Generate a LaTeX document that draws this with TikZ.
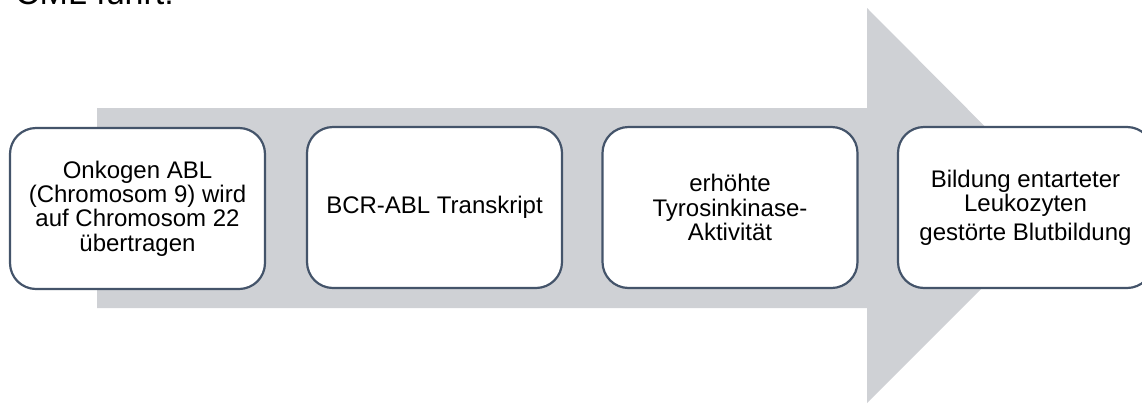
\documentclass[tikz,border=0pt]{standalone}
\usepackage{fontspec}
\setmainfont{Liberation Sans}
\definecolor{arrowgray}{RGB}{207,209,213}
\definecolor{boxline}{RGB}{68,84,106}
\tikzset{
  stepbox/.style={draw=boxline, line width=2.2pt, fill=white,
    rounded corners=26pt, minimum width=255pt, minimum height=161pt,
    align=center, inner sep=0pt, font=\fontsize{24}{24.4}\selectfont},
  headline/.style={anchor=base west, inner sep=0pt,
    font=\fontsize{34}{40}\selectfont},
}
\begin{document}
\begin{tikzpicture}[x=1pt,y=-1pt]
\useasboundingbox (0,0) rectangle (1142,405);
\clip (0,0) rectangle (1142,405);
% heading, mostly above the page edge
\node[headline] (title) at (15,4) {CML führt:};
% broad process arrow behind the steps
\fill[arrowgray] (97,108) -- (867,108) -- (867,8) -- (1064,206)
  -- (867,403) -- (867,308) -- (97,308) -- cycle;
% steps
\node[stepbox] (s1) at (137.5,208.5) {Onkogen ABL\\(Chromosom 9) wird\\auf Chromosom 22\\übertragen};
\node[stepbox] (s2) at (434.5,207.5) {BCR-ABL Transkript};
\node[stepbox] (s3) at (730,207.5) {erhöhte\\Tyrosinkinase-\\Aktivität};
\node[stepbox] (s4) at (1025.5,207.5) {Bildung entarteter\\Leukozyten\\[4pt]gestörte Blutbildung};
\end{tikzpicture}
\end{document}
